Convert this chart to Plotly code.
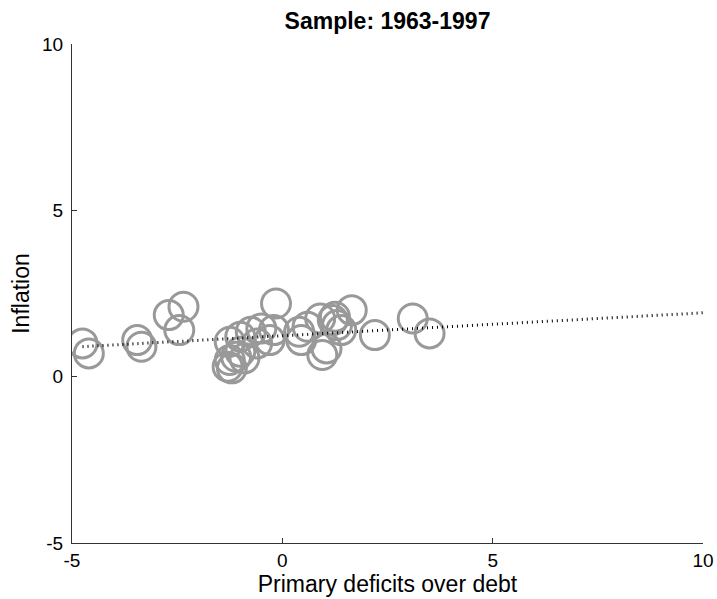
import plotly.graph_objects as go

# Scatter data: primary deficits over debt (x) vs inflation (y), 1963-1997
deficit = [-4.75, -4.6, -3.45, -3.35, -2.7, -2.35, -2.45,
           -1.3, -1.25, -1.2, -1.1, -1.0, -1.25, -1.0, -0.75, -0.5,
           -0.3, -0.2, -0.15, 0.4, 0.45, 0.6, 0.9, 0.95, 1.05,
           1.2, 1.3, 1.4, 1.25, 1.65, 2.2, 3.1, 3.5, -0.9, -0.6]
inflation = [1.0, 0.7, 1.1, 0.9, 1.85, 2.1, 1.4,
             0.3, 0.5, 0.25, 0.6, 0.75, 1.05, 1.2, 1.35, 1.45,
             1.1, 1.4, 2.2, 1.35, 1.1, 1.5, 1.75, 0.65, 0.85,
             1.7, 1.55, 1.4, 1.8, 2.0, 1.25, 1.75, 1.3, 0.55, 1.0]

# Fitted regression line
fit_x = [-4.75, 10]
fit_intercept = 1.23
fit_slope = 0.069
fit_y = [fit_intercept + fit_slope * v for v in fit_x]

x_ticks = [-5, 0, 5, 10]
x_tick_labels = ["-5", "0", "5", "10"]
y_ticks = [-5, 0, 5, 10]
y_tick_labels = ["-5", "0", "5", "10"]

font = "Arial, Liberation Sans, Helvetica, sans-serif"

fig = go.Figure()
fig.add_trace(go.Scatter(
    x=deficit, y=inflation, mode="markers",
    marker=dict(symbol="circle-open", size=29, color="#999999",
                line=dict(width=3, color="#999999")),
    showlegend=False, hoverinfo="x+y"))
fig.add_trace(go.Scatter(
    x=fit_x, y=fit_y, mode="lines",
    line=dict(color="black", width=3, dash="1px,4px"),
    showlegend=False))

fig.update_layout(
    width=717, height=599,
    margin=dict(l=72, r=14, t=44, b=56),
    paper_bgcolor="white", plot_bgcolor="white",
    title=dict(text="<b>Sample: 1963-1997</b>", x=(72 + 703) / 2 / 717,
               xanchor="center", y=1 - 21 / 599, yanchor="middle",
               font=dict(family=font, size=23, color="black")),
    font=dict(family=font, size=19, color="black"),
    xaxis=dict(range=[-5, 10], tickvals=x_ticks, ticktext=x_tick_labels,
               showgrid=False, automargin=False,
               zeroline=False, showline=True, linecolor="#333333",
               linewidth=1, ticks="inside", ticklen=5,
               tickcolor="#333333",
               title=dict(text="Primary deficits over debt",
                          font=dict(size=23), standoff=0),
               tickfont=dict(size=19)),
    yaxis=dict(range=[-5, 10], tickvals=y_ticks, ticktext=y_tick_labels,
               showgrid=False, automargin=False,
               zeroline=False, showline=True, linecolor="#333333",
               linewidth=1, ticks="inside", ticklen=5,
               tickcolor="#333333", ticklabelstandoff=4,
               title=dict(text="Inflation", font=dict(size=23), standoff=6),
               tickfont=dict(size=19)),
)

fig.write_html("out.html")
